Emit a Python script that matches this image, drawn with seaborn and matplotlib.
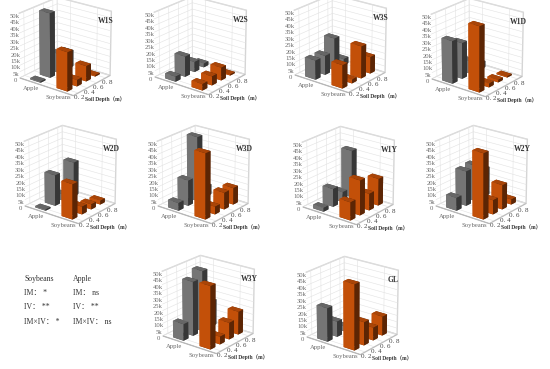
import numpy as np
import pandas as pd
import seaborn as sns
import matplotlib
matplotlib.use("Agg")
import matplotlib.pyplot as plt
from mpl_toolkits.mplot3d import proj3d

sns.set_theme(style="white")
plt.rcParams['font.family'] = ['Liberation Serif', 'Noto Sans CJK SC', 'DejaVu Sans']

crops = ["Apple", "Soybeans"]
depths = ["0. 2", "0. 4", "0. 6", "0. 8"]
panels = ["W1S", "W2S", "W3S", "W1D", "W2D", "W3D", "W1Y", "W2Y", "W3Y", "GL"]
apple = [[1, 50, 15, 13], [4, 16, 8, 3], [15, 15, 25, 5], [33, 28, 10, 5], [1, 24, 5, 27],
         [6, 20, 50, 8], [3, 14, 8, 37], [10, 27, 28, 22], [13, 42, 47, 20], [26, 12, 4, 3]]
soy = [[30, 5, 12, 1], [5, 7, 10, 1], [18, 3, 25, 13], [50, 3, 2, 1], [27, 6, 4, 3],
       [50, 6, 13, 13], [14, 27, 13, 21], [50, 11, 19, 4], [48, 6, 13, 18], [50, 18, 10, 15]]
zticks = [0, 5, 10, 15, 20, 25, 30, 35, 40, 45, 50]
zlabels = ["0", "5k", "10k", "15k", "20k", "25k", "30k", "35k", "40k", "45k", "50k"]
# floor-left corner of each panel, in reference pixels
anchors = [(20, 78), (155, 77), (295, 75), (432, 79), (25, 206),
           (158, 206), (303, 207), (436, 206), (163, 336), (307, 337)]
stats_s = ["Soybeans", "IM： *", "IV： **", "IM×IV： *"]
stats_a = ["Apple", "IM： ns", "IV： **", "IM×IV： ns"]

palette = ["#858585", "#dd5a0a"]
W, H = 550, 369
fig = plt.figure(figsize=(W/100, H/100), dpi=100, facecolor="white")
BW, BH = 130, 115

for name, a, s, (ax0, ay0) in zip(panels, apple, soy, anchors):
    ax = fig.add_axes([0.1, 0.1, BW/W, BH/H], projection="3d", facecolor="none")
    df = pd.DataFrame({"crop": [0]*4 + [1]*4, "depth": list(range(4))*2, "v": a + s})
    for c, col in enumerate(palette):
        d = df[df.crop == c]
        ax.bar3d(d.crop + 0.3, d.depth + 0.25, 0*d.v, 0.4, 0.5, d.v, color=col, shade=True, zsort="average", linewidth=0)
    ax.set_xlim(0, 2); ax.set_ylim(0, 4); ax.set_zlim(0, 50)
    ax.view_init(elev=22, azim=-52)
    ax.set_proj_type("persp", focal_length=1.5)
    ax.set_box_aspect((1.0, 0.9, 1.02), zoom=0.97)
    ax.set_xticks([0.5, 1.5]); ax.set_xticklabels(crops, fontsize=4.8, color="#6a6a6a")
    ax.set_yticks([0.5, 1.5, 2.5, 3.5]); ax.set_yticklabels(depths, fontsize=5, color="#444444")
    ax.set_zticks(zticks); ax.set_zticklabels(zlabels, fontsize=4.8, color="#6a6a6a")
    ax.zaxis._axinfo['juggled'] = (1, 0, 2)
    for axis in (ax.xaxis, ax.yaxis, ax.zaxis):
        axis.set_pane_color((1, 1, 1, 1))
        axis.pane.set_edgecolor("#d5d5d5")
        axis.line.set_color("#b5b5b5")
        axis.line.set_linewidth(0.5)
        axis._axinfo["grid"].update(color="#e2e2e2", linewidth=0.4)
        axis._axinfo["tick"].update(inward_factor=0, outward_factor=0, linewidth={True: 0, False: 0})
    ax.tick_params(axis="x", pad=-6, length=0)
    ax.tick_params(axis="y", pad=-7, length=0)
    ax.tick_params(axis="z", pad=-6, length=0)
    fig.canvas.draw()
    px, py, _ = proj3d.proj_transform(0, 0, 0, ax.get_proj())
    dx, dy = ax.transData.transform((px, py))
    pos = ax.get_position()
    ax.set_position([pos.x0 + (ax0 - dx)/W, pos.y0 + ((H - ay0) - dy)/H, pos.width, pos.height])
    fig.text((ax0 + 86)/W, 1 - (ay0 - 57)/H, name, fontsize=5.5, fontweight="bold", color="#333333", ha="center", va="center")
    fig.text((ax0 + 85)/W, 1 - (ay0 + 21)/H, "Soil Depth（m）", fontsize=4, fontweight="bold", color="#333333", ha="center", va="center")

for xp, col in ((24, stats_s), (73, stats_a)):
    for yp, t in zip((279, 293, 307, 322), col):
        fig.text(xp/W, 1 - yp/H, t, fontsize=5.6, color="#333333", va="center")

fig.savefig("out.png", dpi=100, facecolor="white")
